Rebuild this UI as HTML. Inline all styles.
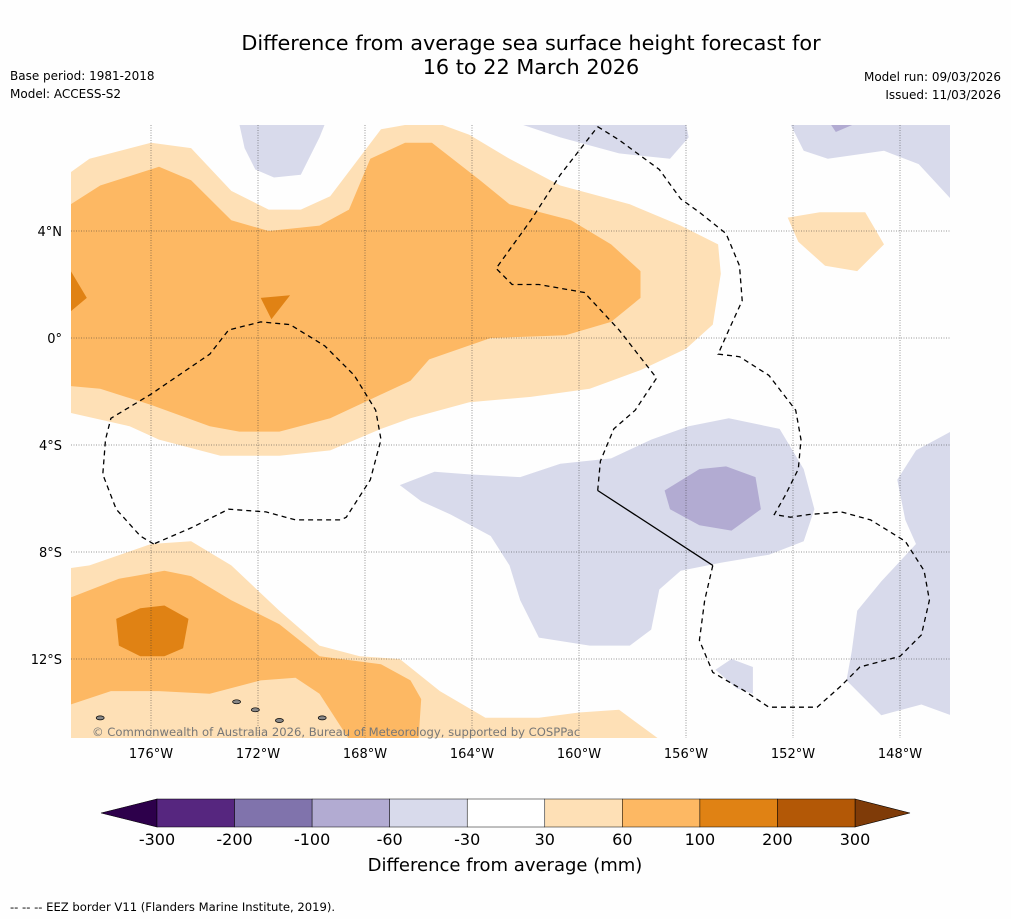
<!DOCTYPE html>
<html><head><meta charset="utf-8"><style>
body{margin:0;background:#fff;width:1011px;height:919px;overflow:hidden;font-family:"Liberation Sans","DejaVu Sans",sans-serif}
svg text{font-family:"DejaVu Sans","Liberation Sans",sans-serif}
</style></head><body>
<svg id="chart" width="1011" height="919" xmlns="http://www.w3.org/2000/svg">
<rect width="1011" height="919" fill="#fefefe"/>
<text x="531" y="50" font-size="20.8" text-anchor="middle">Difference from average sea surface height forecast for</text>
<text x="531" y="74" font-size="20.8" text-anchor="middle">16 to 22 March 2026</text>
<text x="10" y="80" font-size="12">Base period: 1981-2018</text>
<text x="10" y="98" font-size="12">Model: ACCESS-S2</text>
<text x="1001" y="81" font-size="12" text-anchor="end">Model run: 09/03/2026</text>
<text x="1001" y="99" font-size="12" text-anchor="end">Issued: 11/03/2026</text>
<g id="map"></g>
<g id="cbar"></g>
<text x="505" y="871" font-size="18" text-anchor="middle">Difference from average (mm)</text>
<text x="10" y="911" font-size="11.6">--  --  -- EEZ border V11 (Flanders Marine Institute, 2019).</text>
</svg>
<script>
const lonTicks=[-176,-172,-168,-164,-160,-156,-152,-148];
const latTicks=[4,0,-4,-8,-12];
const cbLevels=[-300,-200,-100,-60,-30,30,60,100,200,300];
const cbColors=["#56267f","#8073ac","#b2abd2","#d8daeb","#ffffff","#fee0b6","#fdb863","#e08214","#b35806"];
const lightOrangeTop=[[-179,6.2],[-178.3,6.7],[-176,7.3],[-174.5,7.1],[-173,5.5],[-171.6,4.8],[-170.4,4.8],[-169.3,5.3],[-167.4,7.8],[-166.3,8],[-165.2,8],[-164.1,7.6],[-162.6,6.7],[-160.7,5.7],[-158.1,5],[-156.2,4.2],[-154.8,3.5],[-154.7,2.4],[-155,0.5],[-156,-0.4],[-157.7,-1.2],[-159.6,-1.9],[-161.8,-2.2],[-164.1,-2.4],[-166.3,-3],[-167.4,-3.4],[-169.3,-4.2],[-171.2,-4.4],[-173.4,-4.4],[-175.7,-3.8],[-176.8,-3.3],[-179,-2.8]];
const medOrangeTop=[[-179,5],[-177.9,5.7],[-175.7,6.4],[-174.5,5.9],[-173,4.4],[-171.6,4],[-169.7,4.2],[-168.6,4.8],[-167.8,6.7],[-166.5,7.3],[-165.5,7.3],[-163.7,5.9],[-162.6,5],[-160.3,4.4],[-158.8,3.5],[-157.7,2.5],[-157.7,1.5],[-158.8,0.6],[-160.5,0.1],[-163.3,0],[-165.6,-0.8],[-166.3,-1.6],[-167.8,-2.3],[-169.3,-3],[-171.2,-3.5],[-172.7,-3.5],[-173.8,-3.3],[-176,-2.5],[-177.9,-1.9],[-179,-1.8]];
const darkOrangeA=[[-179,2.5],[-178.4,1.5],[-179,1]];
const darkOrangeB=[[-171.9,1.5],[-170.8,1.6],[-171.5,0.7]];
const lightOrangeBL=[[-179,-8.6],[-178.3,-8.5],[-176,-7.7],[-174.5,-7.6],[-173,-8.5],[-171.2,-10.2],[-169.7,-11.5],[-168.2,-11.9],[-166.7,-12],[-165.2,-13.2],[-163.5,-14.2],[-161.5,-14.2],[-160,-14],[-158.5,-13.9],[-157,-15],[-179,-15]];
const medOrangeBL=[[-179,-9.7],[-177.2,-9],[-175.5,-8.7],[-174.5,-8.9],[-173,-9.8],[-171.2,-10.7],[-169.7,-11.9],[-167.4,-12.2],[-166.3,-12.8],[-165.9,-13.5],[-166,-15],[-168.6,-15],[-169.7,-13.3],[-170.6,-12.7],[-171.9,-12.8],[-173.8,-13.3],[-175.7,-13.2],[-177.5,-13.2],[-179,-13.7]];
const darkOrangeBL=[[-177.3,-10.5],[-176.4,-10.1],[-175.5,-10],[-174.6,-10.5],[-174.8,-11.6],[-175.5,-11.9],[-176.4,-11.9],[-177.2,-11.5]];
const lightOrangeR=[[-152.2,4.5],[-151,4.7],[-149.3,4.7],[-148.6,3.5],[-149.6,2.5],[-150.8,2.7],[-151.8,3.6]];
const purpleTop1=[[-172.7,8],[-169.5,8],[-169.7,7.5],[-170.4,6.1],[-171.4,6],[-172.1,6.3],[-172.5,7.1]];
const purpleTop2=[[-162.2,8],[-156,8],[-155.9,7.5],[-156.6,6.7],[-158.5,6.9],[-160.7,7.5]];
const purpleTop3=[[-152.1,8],[-146.1,8],[-146.1,5.2],[-147.3,6.5],[-148.6,7],[-150.7,6.7],[-151.6,7]];
const purpleTopDark=[[-150.6,8],[-149.7,8],[-150.4,7.7]];
const purpleCenter=[[-166.7,-5.5],[-165.4,-5],[-164.1,-5.1],[-162.2,-5.2],[-160.7,-4.7],[-158.8,-4.5],[-157.3,-3.8],[-155.9,-3.3],[-154.4,-3],[-152.5,-3.4],[-151.6,-4.9],[-151.2,-6.4],[-151.6,-7.6],[-152.9,-8.1],[-154.7,-8.4],[-156.2,-8.7],[-157,-9.4],[-157.3,-10.9],[-158.1,-11.5],[-159.6,-11.5],[-161.5,-11.2],[-162.2,-9.8],[-162.6,-8.5],[-163.3,-7.4],[-164.8,-6.6],[-165.9,-6.1]];
const purpleCenterDark=[[-156.8,-5.7],[-155.5,-4.9],[-154.5,-4.8],[-153.4,-5.2],[-153.2,-6.4],[-154.3,-7.2],[-155.5,-7],[-156.6,-6.4]];
const purpleRight=[[-146.1,-3.5],[-147.4,-4.2],[-148.1,-5.3],[-147.8,-6.8],[-147.4,-7.7],[-148.7,-9.1],[-149.6,-10.2],[-149.8,-11.7],[-150,-12.8],[-148.7,-14.1],[-147.2,-13.7],[-146.1,-14.1]];
const purpleSmall=[[-154.9,-12.4],[-154.3,-12],[-153.5,-12.3],[-153.5,-13.3],[-154.1,-13.1]];
const eezWest=[[-175.9,-7.7],[-176.4,-7.4],[-177.3,-6.4],[-177.8,-5.1],[-177.7,-3.8],[-177.5,-3],[-176,-2.1],[-173.8,-0.6],[-173.1,0.3],[-171.9,0.6],[-170.8,0.5],[-169.5,-0.3],[-168.4,-1.4],[-167.6,-2.7],[-167.4,-3.8],[-167.8,-5.3],[-168.7,-6.7],[-168.9,-6.8],[-170.6,-6.8],[-171.7,-6.5],[-173.1,-6.4],[-174.5,-7.1],[-175.9,-7.7]];
const eezLine=[[-159.3,7.9],[-158.5,7.4],[-157,6.3],[-156.2,5.2],[-155.5,4.7],[-154.5,3.9],[-154,2.7],[-153.9,1.4],[-154.4,0.3],[-154.8,-0.6],[-154,-0.7],[-152.9,-1.4],[-151.9,-2.7],[-151.7,-3.8],[-151.8,-4.9],[-152.3,-5.9],[-152.7,-6.6],[-152.1,-6.7],[-151.4,-6.6],[-150.2,-6.5],[-149.1,-6.8],[-147.8,-7.6],[-147.1,-8.7],[-146.9,-9.8],[-147.2,-11.1],[-148,-11.9],[-149.5,-12.3],[-150.2,-13],[-151.1,-13.8],[-152.9,-13.8],[-153.8,-13.2],[-155,-12.5],[-155.5,-11.3],[-155.3,-9.8],[-155,-8.5]];
const eezSolid=[[-155,-8.5],[-159.3,-5.7]];
const eezLineB=[[-159.3,-5.7],[-159.2,-4.6],[-158.7,-3.4],[-157.9,-2.7],[-157.1,-1.5],[-158.5,0.3],[-159.8,1.7],[-161.5,2],[-162.5,2],[-163.1,2.6],[-161.8,4.4],[-160.7,6.1],[-159.3,7.9]];
const islands=[[-172.8,-13.6],[-172.1,-13.9],[-171.2,-14.3],[-169.6,-14.2],[-177.9,-14.2]];

const X0=71,X1=950,Y0=125,Y1=738;
const xs=lon=>151+(lon+176)*26.75;
const ys=lat=>338-lat*26.75;
const NS="http://www.w3.org/2000/svg";
const map=document.getElementById('map');
function mk(tag,attrs,parent){const e=document.createElementNS(NS,tag);for(const k in attrs)e.setAttribute(k,attrs[k]);parent.appendChild(e);return e;}
const pts=a=>a.map(p=>xs(p[0]).toFixed(1)+","+ys(p[1]).toFixed(1)).join(" ");
const defs=mk('defs',{},map);
const cp=mk('clipPath',{id:'clip'},defs);
mk('rect',{x:X0,y:Y0,width:X1-X0,height:Y1-Y0},cp);
const g=mk('g',{'clip-path':'url(#clip)'},map);
const fills=[
 [lightOrangeTop,cbColors[5],'contour-30-60-north'],[medOrangeTop,cbColors[6],'contour-60-100-north'],
 [darkOrangeA,cbColors[7],'contour-100-200-west'],[darkOrangeB,cbColors[7],'contour-100-200-north'],
 [lightOrangeBL,cbColors[5],'contour-30-60-south'],[medOrangeBL,cbColors[6],'contour-60-100-south'],
 [darkOrangeBL,cbColors[7],'contour-100-200-south'],[lightOrangeR,cbColors[5],'contour-30-60-east'],
 [purpleTop1,cbColors[3],'contour-neg30-north-1'],[purpleTop2,cbColors[3],'contour-neg30-north-2'],
 [purpleTop3,cbColors[3],'contour-neg30-north-3'],[purpleTopDark,cbColors[2],'contour-neg60-north'],
 [purpleCenter,cbColors[3],'contour-neg30-center'],[purpleCenterDark,cbColors[2],'contour-neg60-center'],
 [purpleRight,cbColors[3],'contour-neg30-east'],[purpleSmall,cbColors[3],'contour-neg30-small']];
for(const [a,c,n] of fills){
 const p=mk('polygon',{points:pts(a),fill:c,stroke:'none'},g);
 
 
}
for(const lo of lonTicks){const l=mk('line',{x1:xs(lo),x2:xs(lo),y1:Y0,y2:Y1,stroke:'#333','stroke-width':0.5,'stroke-dasharray':'1,1.5'},g);
 
 const t=mk('text',{x:xs(lo),y:758,'font-size':13,'text-anchor':'middle'},map);t.textContent=Math.abs(lo)+'°W';
 }
for(const la of latTicks){const l=mk('line',{x1:X0,x2:X1,y1:ys(la),y2:ys(la),stroke:'#333','stroke-width':0.5,'stroke-dasharray':'1,1.5'},g);
 
 const t=mk('text',{x:62,y:ys(la)+5,'font-size':13,'text-anchor':'end'},map);t.textContent=la===0?'0°':Math.abs(la)+'°'+(la>0?'N':'S');
 }
for(const [a,n,d] of [[eezWest,'eez-border-west','5,4'],[eezLine,'eez-border-line-islands','5,4'],[eezLineB,'eez-border-line-islands-west','5,4'],[eezSolid,'eez-border-solid','']]){
 const l=mk('polyline',{points:pts(a),fill:'none',stroke:'#000','stroke-width':1.3,'stroke-dasharray':d},g);
 }
for(const p of islands){const e=mk('ellipse',{cx:xs(p[0]),cy:ys(p[1]),rx:4,ry:2,fill:'#888',stroke:'#000','stroke-width':0.7},g);
 }
const cr=mk('text',{x:92,y:736,'font-size':11.6,fill:'#777'},map);cr.textContent='© Commonwealth of Australia 2026, Bureau of Meteorology, supported by COSPPac';

const cb=document.getElementById('cbar');
const CB0=157,CB1=855,CBY=799,CBH=28;
const seg=(CB1-CB0)/cbColors.length;
const lt=mk('polygon',{points:`${CB0},${CBY} ${CB0},${CBY+CBH} 101,${CBY+CBH/2}`,fill:'#2d004b',stroke:'#000','stroke-width':0.6},cb);

const rt=mk('polygon',{points:`${CB1},${CBY} ${CB1},${CBY+CBH} 910,${CBY+CBH/2}`,fill:'#7f3b08',stroke:'#000','stroke-width':0.6},cb);

cbColors.forEach((c,i)=>{const r=mk('rect',{x:CB0+i*seg,y:CBY,width:seg,height:CBH,fill:c,stroke:'#000','stroke-width':0.5},cb);
 });
cbLevels.forEach((v,i)=>{const t=mk('text',{x:CB0+i*seg,y:845,'font-size':16,'text-anchor':'middle'},cb);t.textContent=v;
 });
</script>
</body></html>
